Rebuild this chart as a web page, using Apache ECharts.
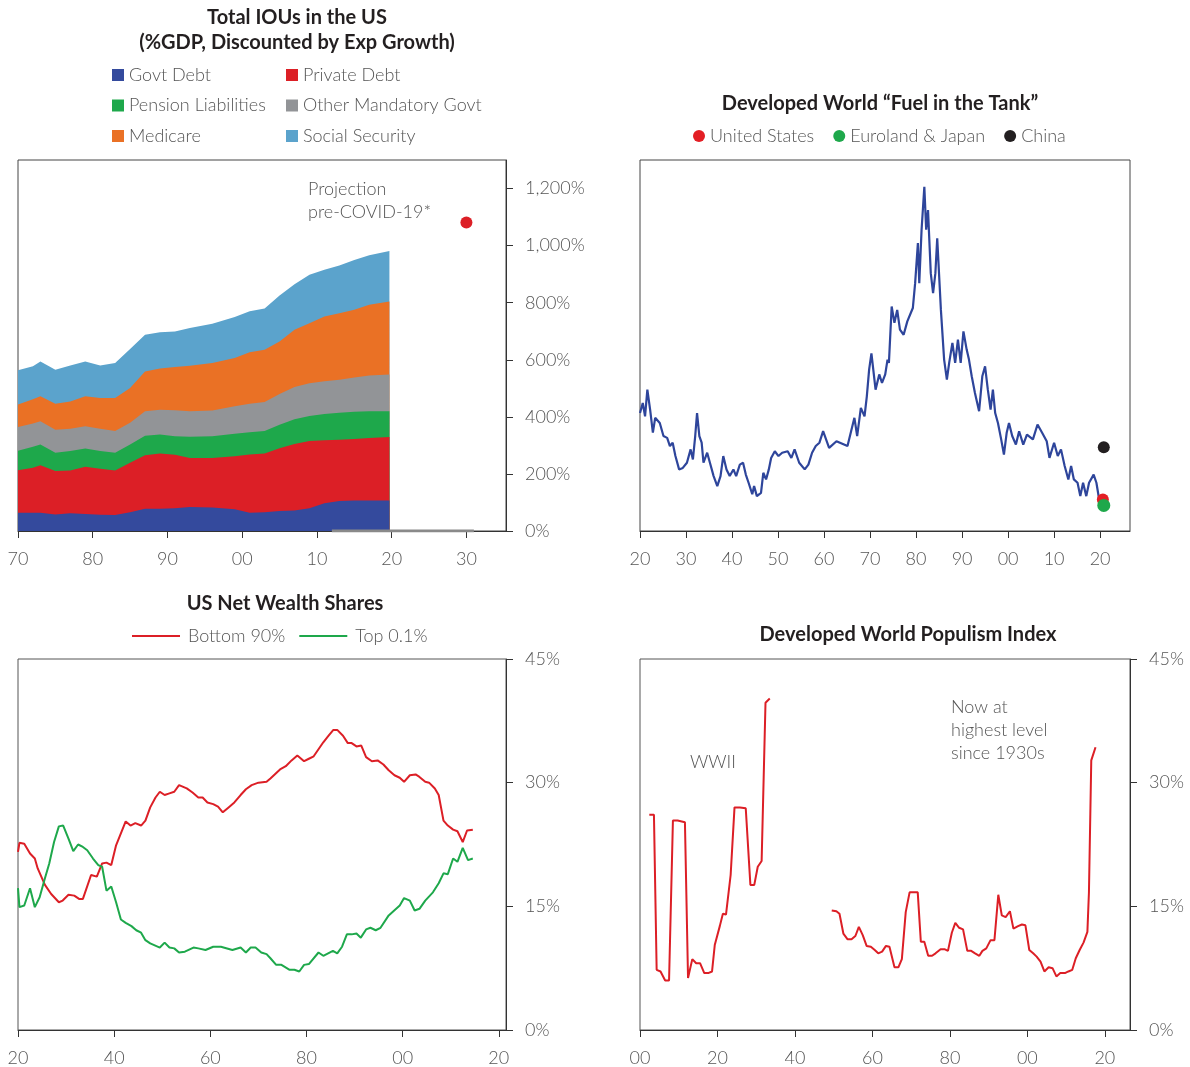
<!DOCTYPE html>
<html>
<head>
<meta charset="utf-8">
<script src="https://cdn.jsdelivr.net/npm/echarts@6/dist/echarts.min.js"></script>
<style>
  html, body { margin: 0; padding: 0; background: #fff; }
  #main { width: 1190px; height: 1067px; }
</style>
</head>
<body>
<div id="main"></div>
<script>
// Total IOUs in the US (%GDP) - layer values, stacked bottom to top
const iouYears = [1970, 1972, 1973, 1975, 1977, 1979, 1981, 1983, 1985, 1987, 1989, 1991, 1993, 1996, 1999, 2001, 2003, 2005, 2007, 2009, 2011, 2013, 2015, 2017, 2019.7];
const govtDebt = [64, 64, 64, 58, 62, 60, 57, 56, 66, 78, 78, 80, 84, 82, 76, 64, 66, 70, 72, 80, 97, 105, 107, 107, 107];
const privateDebt = [149, 158, 166, 152, 150, 165, 161, 156, 173, 187, 194, 187, 172, 174, 186, 204, 206, 220, 233, 235, 221, 215, 215, 219, 222];
const pensionLiab = [68, 73, 73, 64, 68, 64, 62, 62, 64, 69, 66, 65, 74, 76, 79, 78, 78, 82, 87, 88, 92, 94, 96, 94, 91];
const otherMandatory = [83, 82, 82, 81, 78, 78, 78, 76, 76, 86, 87, 91, 90, 90, 96, 100, 102, 108, 113, 115, 115, 116, 120, 125, 128];
const medicare = [79, 85, 87, 91, 96, 105, 108, 116, 122, 139, 144, 152, 159, 167, 169, 180, 183, 184, 200, 210, 227, 233, 237, 248, 256];
const socialSecurity = [120, 115, 122, 119, 126, 122, 114, 123, 137, 129, 127, 124, 132, 137, 144, 144, 145, 161, 160, 170, 163, 167, 175, 173, 177];
const projection = [2030, 1081];
const projBar = [2012, 2031];

// Developed World "Fuel in the Tank"
const fuelYears = [1920.0, 1920.6, 1921.1, 1921.6, 1922.2, 1922.8, 1923.3, 1924.3, 1925.1, 1925.9, 1926.5, 1927.1, 1927.7, 1928.5, 1929.3, 1930.2, 1931.0, 1931.5, 1932.0, 1932.4, 1932.9, 1933.4, 1933.8, 1934.6, 1935.2, 1936.0, 1936.8, 1937.5, 1938.1, 1938.8, 1939.5, 1940.3, 1940.9, 1941.7, 1942.4, 1943.0, 1943.6, 1944.0, 1944.4, 1944.8, 1945.4, 1946.3, 1946.8, 1947.4, 1948.0, 1948.5, 1949.3, 1950.1, 1950.9, 1952.1, 1952.9, 1953.6, 1954.6, 1955.8, 1956.6, 1957.4, 1958.2, 1959.0, 1959.8, 1961.1, 1962.7, 1965.1, 1966.6, 1967.2, 1968.0, 1968.8, 1969.3, 1969.8, 1970.3, 1971.2, 1972.0, 1972.6, 1973.3, 1973.8, 1974.1, 1974.7, 1975.3, 1975.9, 1976.5, 1977.3, 1978.1, 1979.3, 1979.8, 1980.4, 1980.7, 1981.2, 1981.8, 1982.2, 1982.6, 1983.2, 1983.7, 1984.2, 1984.6, 1985.0, 1985.4, 1986.1, 1986.7, 1987.2, 1987.9, 1988.5, 1989.1, 1989.7, 1990.3, 1991.0, 1991.5, 1992.1, 1992.8, 1993.7, 1994.4, 1995.0, 1995.6, 1996.2, 1996.7, 1997.2, 1997.8, 1998.5, 1999.1, 1999.7, 2000.2, 2000.9, 2001.7, 2002.4, 2003.3, 2004.1, 2005.4, 2006.4, 2007.4, 2008.4, 2009.0, 2010.0, 2010.8, 2011.5, 2012.3, 2013.1, 2013.7, 2014.3, 2015.1, 2015.7, 2016.3, 2017.0, 2017.6, 2018.6, 2019.2, 2019.8];
const fuelValues = [31.8, 34.5, 30.9, 38.1, 32.7, 26.5, 30.5, 29.1, 25.6, 25.1, 22.9, 23.8, 20.2, 16.6, 17.0, 18.4, 22.0, 19.3, 25.6, 31.8, 25.6, 23.8, 18.4, 21.1, 18.4, 14.8, 12.1, 14.8, 20.2, 16.6, 14.8, 16.6, 14.8, 17.9, 18.4, 15.2, 13.0, 13.5, 9.9, 12.1, 9.4, 10.3, 15.7, 13.9, 16.6, 19.7, 21.5, 20.2, 21.1, 21.5, 19.7, 22.0, 18.4, 16.6, 17.9, 21.1, 22.9, 23.8, 26.9, 22.4, 24.2, 22.9, 30.5, 25.6, 33.2, 30.9, 36.3, 43.5, 47.9, 38.1, 42.2, 39.9, 42.2, 46.2, 45.3, 60.5, 56.1, 59.6, 54.3, 52.9, 56.5, 60.1, 66.8, 77.6, 66.8, 81.2, 92.8, 81.2, 86.5, 69.5, 64.1, 69.5, 78.9, 79.4, 59.6, 46.2, 40.8, 45.3, 50.7, 45.3, 51.6, 45.3, 53.8, 48.9, 46.2, 41.7, 37.2, 32.3, 41.7, 44.4, 38.1, 32.7, 38.1, 31.8, 29.1, 24.7, 20.6, 26.5, 29.1, 25.6, 23.3, 26.9, 23.3, 26.0, 24.7, 28.7, 26.5, 24.2, 19.7, 23.8, 20.2, 22.0, 17.5, 13.9, 17.5, 13.9, 13.0, 9.4, 13.0, 9.4, 13.0, 15.2, 13.0, 8.5];
const fuelUS = [2020.6, 8.5];
const fuelEuroJapan = [2020.8, 6.9];
const fuelChina = [2020.8, 22.6];

// US Net Wealth Shares (%)
const bottomYears = [1920.0, 1920.3, 1921.3, 1922.5, 1923.5, 1924.1, 1925.6, 1926.9, 1928.5, 1929.3, 1930.5, 1931.7, 1932.7, 1933.5, 1935.2, 1936.4, 1937.5, 1938.4, 1939.4, 1940.4, 1942.4, 1943.4, 1944.4, 1945.6, 1946.5, 1947.5, 1948.6, 1949.5, 1950.5, 1951.5, 1952.5, 1953.5, 1955.1, 1956.3, 1957.5, 1958.4, 1959.4, 1960.6, 1961.6, 1962.6, 1963.8, 1965.0, 1966.3, 1967.4, 1968.6, 1970.0, 1971.7, 1972.5, 1974.5, 1975.7, 1976.9, 1978.1, 1978.5, 1979.5, 1980.5, 1981.5, 1983.5, 1984.6, 1985.6, 1986.4, 1987.6, 1988.6, 1989.4, 1990.4, 1991.4, 1992.4, 1993.6, 1994.8, 1996.0, 1997.1, 1998.3, 1999.4, 2000.3, 2001.5, 2002.7, 2003.5, 2004.7, 2005.5, 2006.7, 2007.5, 2008.5, 2009.4, 2010.5, 2011.4, 2012.5, 2013.4, 2014.6];
const bottom90 = [21.6, 22.7, 22.6, 21.4, 20.8, 19.6, 17.6, 16.5, 15.5, 15.7, 16.4, 16.3, 15.9, 15.9, 18.8, 18.6, 20.2, 20.3, 20.0, 22.4, 25.3, 24.8, 25.1, 24.8, 25.4, 27.0, 28.2, 28.9, 28.5, 28.7, 28.9, 29.7, 29.3, 28.8, 28.2, 28.2, 27.6, 27.4, 27.1, 26.4, 27.0, 27.6, 28.5, 29.2, 29.7, 30.0, 30.1, 30.5, 31.6, 32.0, 32.7, 33.3, 33.3, 32.6, 32.9, 33.2, 34.9, 35.7, 36.4, 36.4, 35.7, 34.8, 34.8, 34.4, 34.5, 33.1, 32.6, 32.7, 32.2, 31.5, 30.9, 30.6, 30.1, 30.9, 31.0, 30.7, 30.1, 30.0, 29.3, 28.5, 25.4, 24.8, 24.3, 24.1, 22.8, 24.2, 24.3];
const topYears = [1920.0, 1920.3, 1921.3, 1922.5, 1923.5, 1924.5, 1925.6, 1926.5, 1927.5, 1928.5, 1929.4, 1930.5, 1931.5, 1932.5, 1933.5, 1934.4, 1935.6, 1936.7, 1937.5, 1938.4, 1939.4, 1940.4, 1941.4, 1942.4, 1943.6, 1944.6, 1945.6, 1946.5, 1947.5, 1949.5, 1950.5, 1951.5, 1952.5, 1953.5, 1954.7, 1956.5, 1957.5, 1959.0, 1960.6, 1962.2, 1964.6, 1966.3, 1967.4, 1968.4, 1969.4, 1970.6, 1971.7, 1972.5, 1973.7, 1974.8, 1976.5, 1977.5, 1978.5, 1979.5, 1980.5, 1982.5, 1983.5, 1985.5, 1986.4, 1987.4, 1988.4, 1989.4, 1990.4, 1991.3, 1992.4, 1993.3, 1994.4, 1995.4, 1997.1, 1999.4, 2000.3, 2001.5, 2002.5, 2003.5, 2004.7, 2006.3, 2007.5, 2008.5, 2009.4, 2010.5, 2011.4, 2012.5, 2013.6, 2014.6];
const top01 = [17.2, 14.9, 15.1, 17.2, 14.9, 16.1, 18.4, 20.2, 22.8, 24.7, 24.8, 23.2, 21.7, 22.5, 22.2, 21.8, 20.8, 20.0, 19.8, 16.9, 17.4, 15.5, 13.4, 13.0, 12.6, 12.1, 11.8, 10.9, 10.5, 10.0, 10.6, 10.0, 9.9, 9.4, 9.5, 10.0, 9.9, 9.7, 10.1, 10.1, 9.7, 10.0, 9.4, 10.0, 10.0, 9.4, 9.2, 8.7, 7.9, 7.9, 7.3, 7.3, 7.1, 7.9, 8.0, 9.4, 9.0, 9.6, 9.3, 10.1, 11.6, 11.6, 11.7, 11.2, 12.2, 12.4, 12.1, 12.4, 13.9, 15.1, 16.0, 15.7, 14.5, 14.7, 15.7, 16.7, 17.8, 19.0, 18.9, 20.8, 20.4, 22.1, 20.6, 20.8];

// Developed World Populism Index (%), null = gap
const popYears = [1902.4, 1903.6, 1904.3, 1905.3, 1906.5, 1907.5, 1908.5, 1909.7, 1910.1, 1911.6, 1912.4, 1913.5, 1914.5, 1915.5, 1916.6, 1917.6, 1918.6, 1919.3, 1920.6, 1921.4, 1922.2, 1923.4, 1924.4, 1925.8, 1927.3, 1928.5, 1929.5, 1930.4, 1931.4, 1932.4, 1933.5, 1941.0, 1949.5, 1950.7, 1951.5, 1952.5, 1953.6, 1954.6, 1955.6, 1956.5, 1957.5, 1958.5, 1959.6, 1960.6, 1961.5, 1962.5, 1963.5, 1964.4, 1965.7, 1966.7, 1967.6, 1968.6, 1969.6, 1970.7, 1971.7, 1972.5, 1973.4, 1974.4, 1975.4, 1976.3, 1977.6, 1978.6, 1979.5, 1980.5, 1981.4, 1982.4, 1983.4, 1984.5, 1985.5, 1986.5, 1987.6, 1988.4, 1989.4, 1990.5, 1991.5, 1992.5, 1993.4, 1994.4, 1995.5, 1996.4, 1997.6, 1998.6, 1999.5, 2000.5, 2001.5, 2002.4, 2003.4, 2004.4, 2005.5, 2006.5, 2007.5, 2008.5, 2009.7, 2010.6, 2011.6, 2012.5, 2013.5, 2014.5, 2015.5, 2015.9, 2016.5, 2017.6];
const popValues = [26.1, 26.1, 7.3, 7.1, 6.0, 6.0, 25.4, 25.4, 25.2, 25.2, 6.3, 8.6, 8.1, 8.1, 6.9, 6.9, 7.1, 10.3, 12.6, 14.1, 14.0, 18.8, 27.0, 27.0, 26.9, 17.6, 17.6, 19.8, 20.5, 39.7, 40.2, null, 14.5, 14.4, 14.1, 11.7, 11.0, 11.0, 11.4, 12.5, 11.5, 10.2, 10.1, 9.7, 9.3, 9.5, 10.2, 10.1, 7.6, 7.6, 8.6, 14.3, 16.7, 16.7, 16.7, 10.7, 10.7, 9.0, 9.0, 9.3, 9.8, 9.8, 9.6, 11.8, 13.0, 12.4, 12.2, 9.6, 9.6, 9.3, 9.0, 9.6, 9.9, 10.9, 10.9, 16.4, 13.9, 13.7, 14.4, 12.3, 12.6, 12.8, 12.7, 9.7, 9.3, 8.9, 8.3, 7.1, 7.6, 7.5, 6.5, 6.9, 6.9, 7.1, 7.3, 8.7, 9.7, 10.6, 11.9, 16.7, 32.7, 34.3];

const zip = (xs, ys) => xs.map((x, i) => [x, ys[i]]);
const yy = v => String(Math.round(v) % 100).padStart(2, '0');
const range = (a, b, s) => { const r = []; for (let v = a; v <= b; v += s) r.push(v); return r; };

const LABEL = '#555';
const AXIS = '#333';
const labelFont = { fontFamily: 'Lato', fontWeight: 300, fontSize: 18, color: LABEL };

function xAxisFor(grid, min, max, ticks) {
    return {
        gridIndex: grid, type: 'value', min: min, max: max,
        axisLine: { lineStyle: { color: AXIS } },
        axisTick: { inside: false, length: 7, lineStyle: { color: AXIS }, customValues: ticks },
        axisLabel: Object.assign({ margin: 19, formatter: yy, customValues: ticks }, labelFont),
        splitLine: { show: false }
    };
}
function yAxisFor(grid, max, ticks, show) {
    return {
        gridIndex: grid, type: 'value', position: 'right', min: 0, max: max,
        show: show,
        axisLine: { show: true, lineStyle: { color: AXIS } },
        axisTick: { show: true, inside: false, length: 7, lineStyle: { color: AXIS }, customValues: ticks },
        axisLabel: Object.assign({ margin: 19, customValues: ticks,
            formatter: v => v.toLocaleString('en-US') + '%' }, labelFont),
        splitLine: { show: false }
    };
}

// stacked areas: build running totals, draw the tallest first so lower layers sit on top
const iouLayers = [
    ['Govt Debt', govtDebt, '#344a9d'],
    ['Private Debt', privateDebt, '#dc1f26'],
    ['Pension Liabilities', pensionLiab, '#1ea84b'],
    ['Other Mandatory Govt', otherMandatory, '#929497'],
    ['Medicare', medicare, '#ea7125'],
    ['Social Security', socialSecurity, '#5ba3cc']
];
let running = iouYears.map(() => 0);
const areaSeries = iouLayers.map(([name, values, color], k) => {
    running = running.map((s, i) => s + values[i]);
    return {
        name: name, type: 'line', xAxisIndex: 0, yAxisIndex: 0, z: 2 + (iouLayers.length - k) * 0.01,
        data: zip(iouYears, running), symbol: 'none', color: color,
        lineStyle: { width: 0 }, areaStyle: { color: color, opacity: 1 }
    };
}).reverse();

const chart = echarts.init(document.getElementById('main'));

const titleFont = 'bold 20px Lato';
const noteFont = '300 18px Lato';
function txt(x, y, text, font, fill, align) {
    return { type: 'text', x: x, y: y, z: 100,
        style: { text: text, font: font, fill: fill, align: align || 'center', verticalAlign: 'middle' } };
}

const legendText = { fontFamily: 'Lato', fontWeight: 300, fontSize: 18, color: LABEL, lineHeight: 18 };

option = {
    animation: false,
    grid: [
        { left: 18, top: 160, width: 488, height: 371, show: true, borderColor: '#444', borderWidth: 1 },
        { left: 640, top: 160, width: 490, height: 371, show: true, borderColor: '#444', borderWidth: 1 },
        { left: 18, top: 659, width: 488, height: 372, show: true, borderColor: '#555', borderWidth: 1 },
        { left: 640, top: 659, width: 490, height: 372, show: true, borderColor: '#555', borderWidth: 1 }
    ],
    xAxis: [
        xAxisFor(0, 1970, 2035.3, range(1970, 2030, 10)),
        xAxisFor(1, 1920, 2026.5, range(1920, 2020, 10)),
        xAxisFor(2, 1920, 2021.5, range(1920, 2020, 20)),
        xAxisFor(3, 1900, 2026.5, range(1900, 2020, 20))
    ],
    yAxis: [
        yAxisFor(0, 1300, range(0, 1200, 200), true),
        yAxisFor(1, 100, [], false),
        yAxisFor(2, 45, range(0, 45, 15), true),
        yAxisFor(3, 45, range(0, 45, 15), true)
    ],
    legend: [
        { data: ['Govt Debt', 'Pension Liabilities', 'Medicare'], orient: 'vertical', left: 112, top: 66,
          icon: 'rect', itemWidth: 12, itemHeight: 12, itemGap: 12.5, padding: 0, textStyle: legendText },
        { data: ['Private Debt', 'Other Mandatory Govt', 'Social Security'], orient: 'vertical', left: 286, top: 66,
          icon: 'rect', itemWidth: 12, itemHeight: 12, itemGap: 12.5, padding: 0, textStyle: legendText },
        { data: ['United States', 'Euroland & Japan', 'China'], orient: 'horizontal', left: 693, top: 127,
          icon: 'circle', itemWidth: 12, itemHeight: 12, itemGap: 19, padding: 0, textStyle: legendText },
        { data: ['Bottom 90%', 'Top 0.1%'], orient: 'horizontal', left: 132, top: 627,
          icon: 'rect', itemWidth: 48, itemHeight: 2, itemGap: 14, padding: 0,
          textStyle: Object.assign({ padding: [0, 0, 0, 3] }, legendText) }
    ],
    graphic: [
        txt(297, 18, 'Total IOUs in the US', titleFont, '#231f20'),
        txt(297, 43, '(%GDP, Discounted by Exp Growth)', titleFont, '#231f20'),
        txt(880, 104, 'Developed World \u201cFuel in the Tank\u201d', titleFont, '#231f20'),
        txt(285, 604, 'US Net Wealth Shares', titleFont, '#231f20'),
        txt(908, 635, 'Developed World Populism Index', titleFont, '#231f20'),
        txt(308, 189, 'Projection', noteFont, LABEL, 'left'),
        txt(308, 212, 'pre-COVID-19*', noteFont, LABEL, 'left'),
        txt(690, 762, 'WWII', noteFont, LABEL, 'left'),
        txt(951, 707, 'Now at', noteFont, LABEL, 'left'),
        txt(951, 730, 'highest level', noteFont, LABEL, 'left'),
        txt(951, 753, 'since 1930s', noteFont, LABEL, 'left')
    ],
    series: areaSeries.concat([
        { type: 'line', xAxisIndex: 0, yAxisIndex: 0, data: [[projBar[0], 0], [projBar[1], 0]],
          symbol: 'none', lineStyle: { color: '#8a8a8a', width: 3 }, z: 5 },
        { type: 'scatter', xAxisIndex: 0, yAxisIndex: 0, data: [projection],
          symbolSize: 12, itemStyle: { color: '#dc1f26', opacity: 1 } },

        { type: 'line', xAxisIndex: 1, yAxisIndex: 1, data: zip(fuelYears, fuelValues),
          symbol: 'none', lineStyle: { color: '#2e459b', width: 2.2 } },
        { name: 'United States', type: 'scatter', xAxisIndex: 1, yAxisIndex: 1, data: [fuelUS],
          symbolSize: 12, itemStyle: { color: '#e31e24', opacity: 1 }, z: 3 },
        { name: 'Euroland & Japan', type: 'scatter', xAxisIndex: 1, yAxisIndex: 1, data: [fuelEuroJapan],
          symbolSize: 13, itemStyle: { color: '#1ea84b', opacity: 1 }, z: 4 },
        { name: 'China', type: 'scatter', xAxisIndex: 1, yAxisIndex: 1, data: [fuelChina],
          symbolSize: 12, itemStyle: { color: '#231f20', opacity: 1 } },

        { name: 'Bottom 90%', type: 'line', xAxisIndex: 2, yAxisIndex: 2, data: zip(bottomYears, bottom90),
          symbol: 'none', color: '#dc1f26', lineStyle: { color: '#dc1f26', width: 2 } },
        { name: 'Top 0.1%', type: 'line', xAxisIndex: 2, yAxisIndex: 2, data: zip(topYears, top01),
          symbol: 'none', color: '#1ea84b', lineStyle: { color: '#1ea84b', width: 2 } },

        { type: 'line', xAxisIndex: 3, yAxisIndex: 3, data: zip(popYears, popValues), connectNulls: false,
          symbol: 'none', lineStyle: { color: '#dc1f26', width: 2 } }
    ])
};

chart.setOption(option);
</script>
</body>
</html>
